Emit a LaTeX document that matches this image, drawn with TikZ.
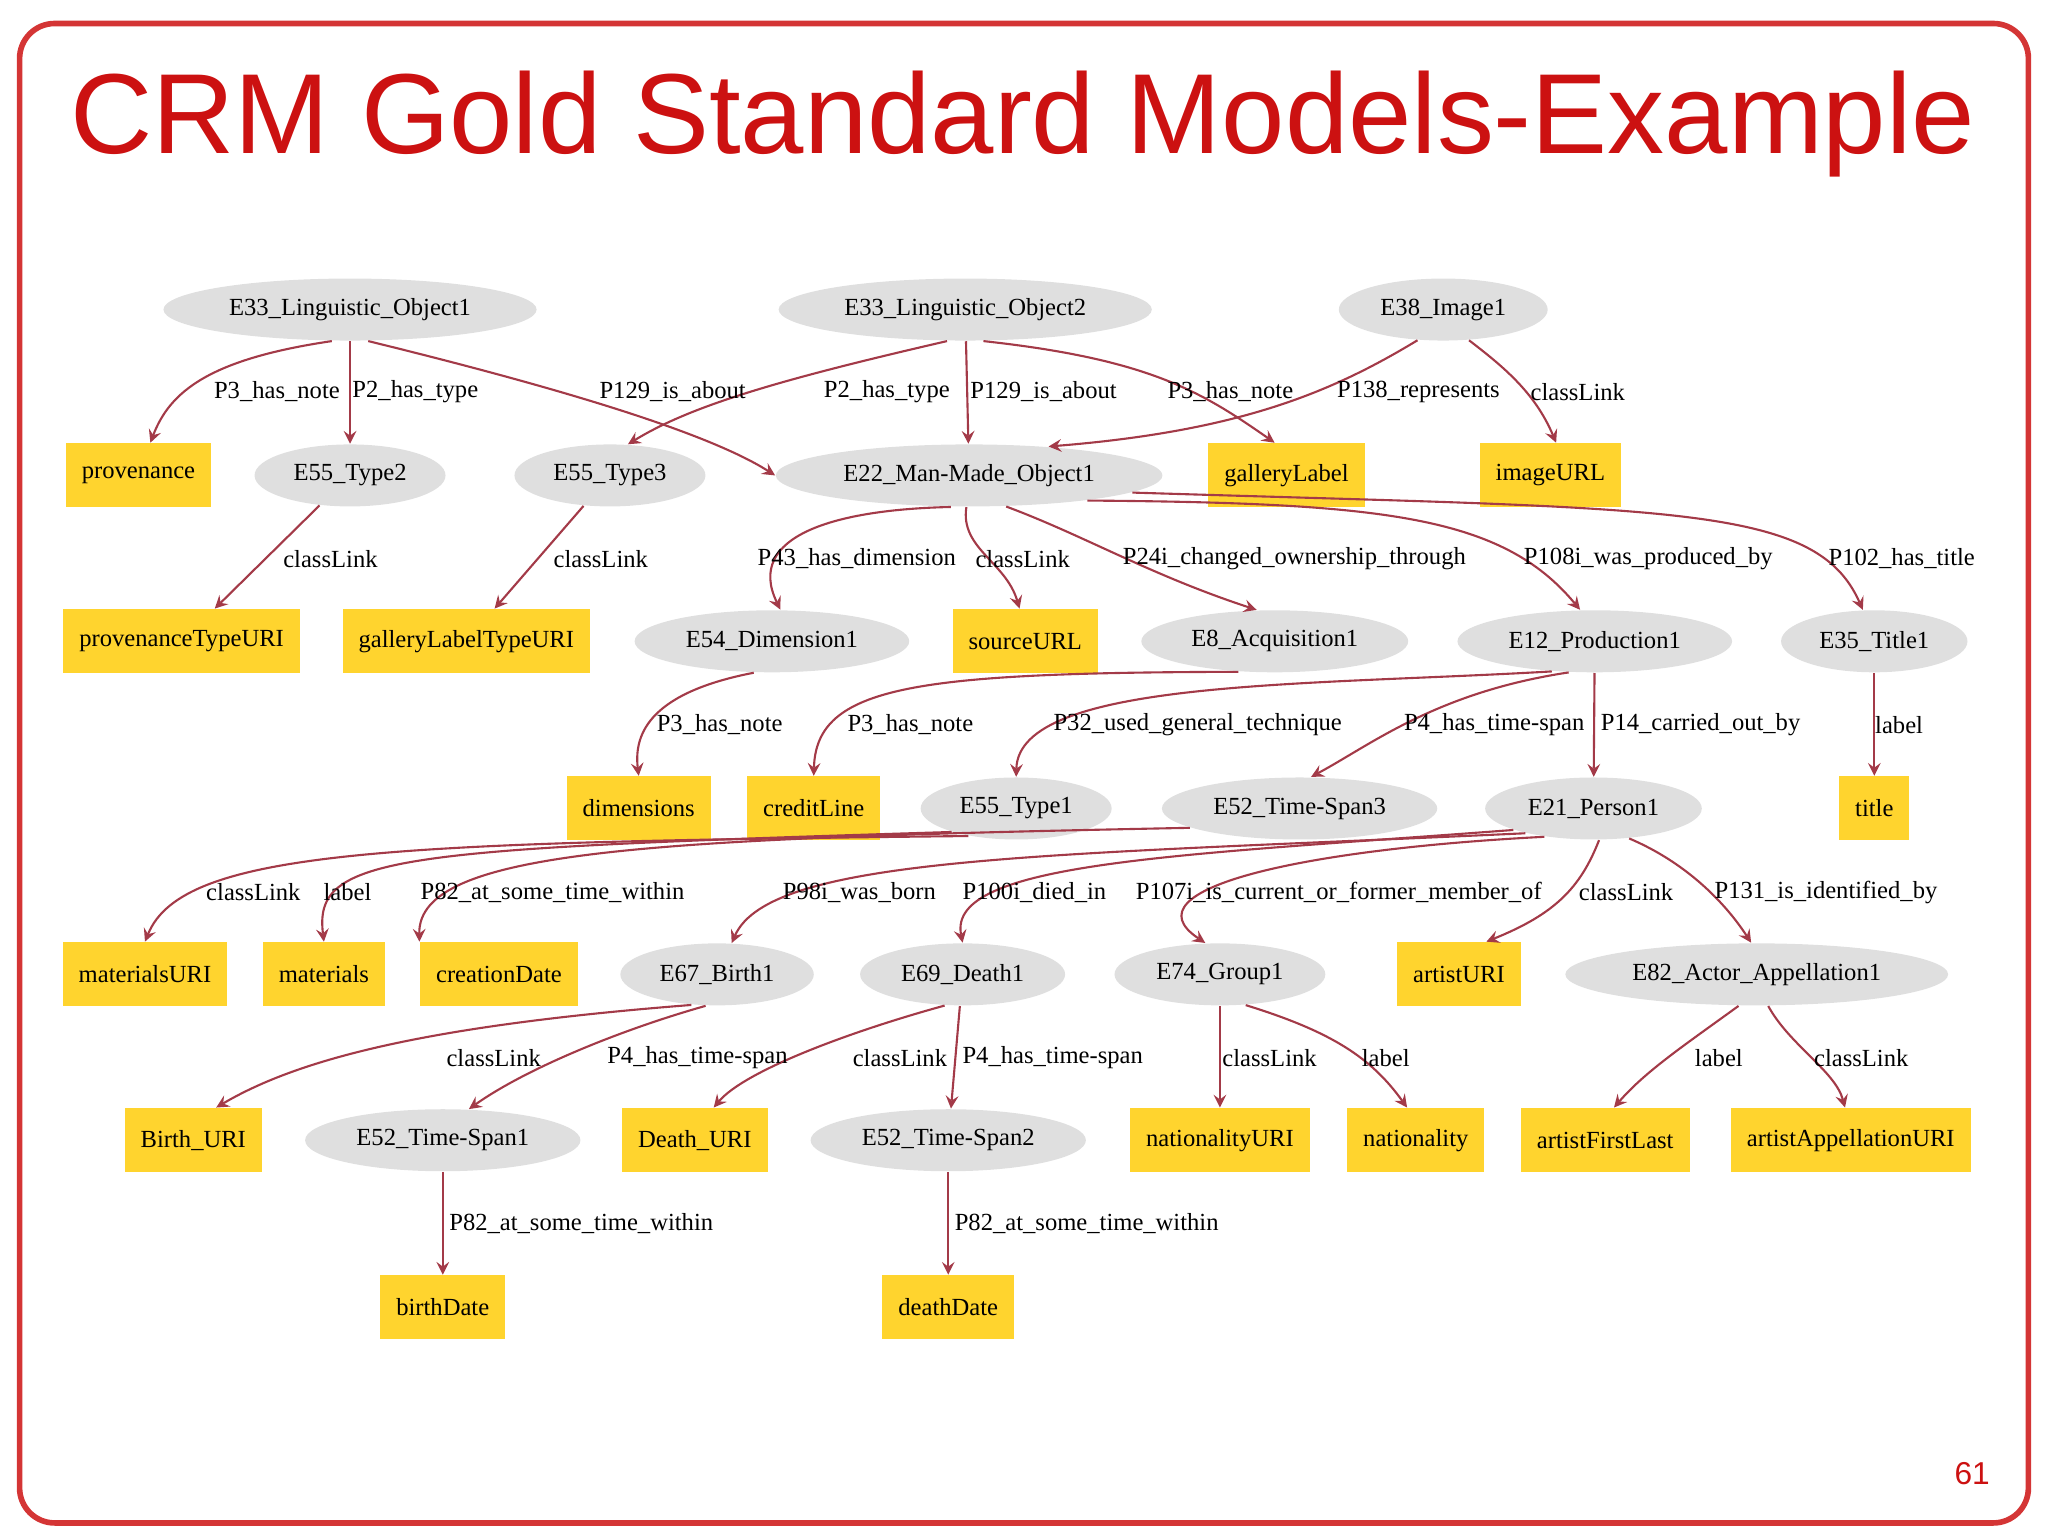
\documentclass[tikz,border=0pt]{standalone}
\usepackage{fontspec}
\setmainfont{Liberation Serif}
\newfontfamily\titlefont{Liberation Sans}
\usetikzlibrary{shapes.geometric,arrows,positioning}
\definecolor{crmred}{HTML}{CC1111}
\definecolor{edgered}{HTML}{A33A48}
\definecolor{gold}{HTML}{FFD42E}
\tikzset{
  cls/.style={ellipse, fill=gray!25, inner xsep=0.11cm, inner ysep=0.02cm, minimum height=0.62cm, font=\fontsize{7}{8}\selectfont},
  lit/.style={rectangle, fill=gold, inner xsep=0.16cm, minimum height=0.64cm, font=\fontsize{7}{8}\selectfont},
  lab/.style={font=\fontsize{7}{8}\selectfont, inner sep=1pt},
  edge/.style={draw=edgered, line width=0.6pt, -stealth}
}
\begin{document}
\begin{tikzpicture}[x=0.013061cm, y=-0.013061cm]
    \useasboundingbox (0,0) rectangle (1568,1176);
    \draw[crmred!85, line width=1.6pt, rounded corners=0.35cm] (15,18) rectangle (1553,1166);
    \node (heading) at (783,95) {\titlefont\fontsize{32.4}{36}\selectfont\color{crmred}CRM Gold Standard Models-Example};
    \node (pagenum) at (1510,1128) {\titlefont\fontsize{9}{10}\selectfont\color{crmred}61};

    % row 1
    \node[cls] (o1) at (268,237) {E33\_Linguistic\_Object1};
    \node[cls] (o2) at (739,237) {E33\_Linguistic\_Object2};
    \node[cls] (img) at (1105,237) {E38\_Image1};
    % row 2
    \node[lit] (prov) at (106,364) {provenance};
    \node[cls] (t2) at (268,364) {E55\_Type2};
    \node[cls] (t3) at (467,364) {E55\_Type3};
    \node[cls] (e22) at (742,364) {E22\_Man-Made\_Object1};
    \node[lit] (glab) at (985,364) {galleryLabel};
    \node[lit] (iurl) at (1187,364) {imageURL};
    % row 3
    \node[lit] (ptype) at (139,491) {provenanceTypeURI};
    \node[lit] (gtype) at (357,491) {galleryLabelTypeURI};
    \node[cls] (dim) at (591,491) {E54\_Dimension1};
    \node[lit] (surl) at (785,491) {sourceURL};
    \node[cls] (acq) at (976,491) {E8\_Acquisition1};
    \node[cls] (prod) at (1221,491) {E12\_Production1};
    \node[cls] (ttl) at (1435,491) {E35\_Title1};
    % row 4
    \node[lit] (dims) at (489,619) {dimensions};
    \node[lit] (credit) at (623,619) {creditLine};
    \node[cls] (t1) at (778,619) {E55\_Type1};
    \node[cls] (ts3) at (995,619) {E52\_Time-Span3};
    \node[cls] (pers) at (1220,619) {E21\_Person1};
    \node[lit] (title) at (1435,619) {title};
    % row 5
    \node[lit] (murl) at (111,746) {materialsURI};
    \node[lit] (mat) at (248,746) {materials};
    \node[lit] (cdate) at (382,746) {creationDate};
    \node[cls] (birth) at (549,746) {E67\_Birth1};
    \node[cls] (death) at (737,746) {E69\_Death1};
    \node[cls] (grp) at (934,746) {E74\_Group1};
    \node[lit] (aurl) at (1117,746) {artistURI};
    \node[cls] (appel) at (1345,746) {E82\_Actor\_Appellation1};
    % row 6
    \node[lit] (burl) at (148,873) {Birth\_URI};
    \node[cls] (ts1) at (339,873) {E52\_Time-Span1};
    \node[lit] (durl) at (532,873) {Death\_URI};
    \node[cls] (ts2) at (726,873) {E52\_Time-Span2};
    \node[lit] (nurl) at (934,873) {nationalityURI};
    \node[lit] (nat) at (1084,873) {nationality};
    \node[lit] (afl) at (1229,873) {artistFirstLast};
    \node[lit] (aaurl) at (1417,873) {artistAppellationURI};
    % row 7
    \node[lit] (bdate) at (339,1001) {birthDate};
    \node[lit] (ddate) at (726,1001) {deathDate};

    % edges
    \draw[edge] (o1.-120) .. controls (160,275) and (130,300) .. (prov.70);
    \draw[edge] (o1) -- (t2);
    \draw[edge] (o1.-60) .. controls (420,295) and (540,330) .. (e22.west);
    \draw[edge] (o2.-120) .. controls (600,290) and (530,310) .. (t3.60);
    \draw[edge] (o2) -- (e22);
    \draw[edge] (o2.-60) .. controls (880,275) and (920,300) .. (glab.110);
    \draw[edge] (img.-130) .. controls (1020,300) and (950,330) .. (e22.20);
    \draw[edge] (img.-50) .. controls (1150,280) and (1175,300) .. (iurl.80);
    \draw[edge] (t2) -- (ptype);
    \draw[edge] (t3) -- (gtype);
    \draw[edge] (e22.-120) .. controls (640,390) and (570,410) .. (dim.75);
    \draw[edge] (e22.-95) .. controls (735,420) and (770,430) .. (surl.100);
    \draw[edge] (e22.-40) .. controls (830,410) and (880,440) .. (acq.120);
    \draw[edge] (e22.-12) .. controls (1060,385) and (1150,395) .. (prod.115);
    \draw[edge] (e22.-6) .. controls (1280,390) and (1390,385) .. (ttl.110);
    \draw[edge] (dim.-120) .. controls (500,530) and (485,560) .. (dims.north);
    \draw[edge] (acq.-140) .. controls (700,515) and (625,525) .. (credit.north);
    \draw[edge] (prod.-145) .. controls (1000,525) and (780,520) .. (t1.north);
    \draw[edge] (prod.-130) .. controls (1100,530) and (1050,570) .. (ts3.70);
    \draw[edge] (prod) -- (pers);
    \draw[edge] (ttl) -- (title);
    \draw[edge] (t1.-150) .. controls (300,645) and (140,650) .. (murl.north);
    \draw[edge] (t1.-160) .. controls (300,650) and (240,655) .. (mat.north);
    \draw[edge] (ts3.-170) .. controls (500,642) and (320,650) .. (cdate.north west);
    \draw[edge] (pers.-160) .. controls (800,655) and (590,655) .. (birth.65);
    \draw[edge] (pers.-165) .. controls (900,655) and (725,660) .. (death.north);
    \draw[edge] (pers.-150) .. controls (1000,650) and (860,680) .. (grp.115);
    \draw[edge] (pers.-80) .. controls (1210,680) and (1190,700) .. (aurl.50);
    \draw[edge] (pers.-40) .. controls (1290,660) and (1320,690) .. (appel.100);
    \draw[edge] (birth.-130) .. controls (330,785) and (230,810) .. (burl.55);
    \draw[edge] (birth.-110) .. controls (470,790) and (400,820) .. (ts1.50);
    \draw[edge] (death.-120) .. controls (650,790) and (570,820) .. (durl.60);
    \draw[edge] (death) -- (ts2);
    \draw[edge] (grp) -- (nurl);
    \draw[edge] (grp.-50) .. controls (1020,790) and (1050,810) .. (nat.105);
    \draw[edge] (appel.-120) .. controls (1290,800) and (1260,820) .. (afl.75);
    \draw[edge] (appel.-70) .. controls (1370,800) and (1405,820) .. (aaurl.100);
    \draw[edge] (ts1) -- (bdate);
    \draw[edge] (ts2) -- (ddate);

    % edge labels
    \node[lab] (l1) at (212,300) {P3\_has\_note};
    \node[lab] (l2) at (318,300) {P2\_has\_type};
    \node[lab] (l3) at (515,300) {P129\_is\_about};
    \node[lab] (l4) at (679,300) {P2\_has\_type};
    \node[lab] (l5) at (799,300) {P129\_is\_about};
    \node[lab] (l6) at (942,300) {P3\_has\_note};
    \node[lab] (l7) at (1086,300) {P138\_represents};
    \node[lab] (l8) at (1208,300) {classLink};
    \node[lab] (l9) at (253,428) {classLink};
    \node[lab] (l10) at (460,428) {classLink};
    \node[lab] (l11) at (656,428) {P43\_has\_dimension};
    \node[lab] (l12) at (783,428) {classLink};
    \node[lab] (l13) at (991,428) {P24i\_changed\_ownership\_through};
    \node[lab] (l14) at (1262,428) {P108i\_was\_produced\_by};
    \node[lab] (l15) at (1456,428) {P102\_has\_title};
    \node[lab] (l16) at (551,555) {P3\_has\_note};
    \node[lab] (l17) at (697,555) {P3\_has\_note};
    \node[lab] (l18) at (917,555) {P32\_used\_general\_technique};
    \node[lab] (l19) at (1144,555) {P4\_has\_time-span};
    \node[lab] (l20) at (1302,555) {P14\_carried\_out\_by};
    \node[lab] (l21) at (1454,555) {label};
    \node[lab] (l22) at (194,683) {classLink};
    \node[lab] (l23) at (266,683) {label};
    \node[lab] (l24) at (423,683) {P82\_at\_some\_time\_within};
    \node[lab] (l25) at (658,683) {P98i\_was\_born};
    \node[lab] (l26) at (792,683) {P100i\_died\_in};
    \node[lab] (l27) at (1025,683) {P107i\_is\_current\_or\_former\_member\_of};
    \node[lab] (l28) at (1245,683) {classLink};
    \node[lab] (l29) at (1398,683) {P131\_is\_identified\_by};
    \node[lab] (l30) at (378,810) {classLink};
    \node[lab] (l31) at (534,810) {P4\_has\_time-span};
    \node[lab] (l32) at (689,810) {classLink};
    \node[lab] (l33) at (806,810) {P4\_has\_time-span};
    \node[lab] (l34) at (972,810) {classLink};
    \node[lab] (l35) at (1061,810) {label};
    \node[lab] (l36) at (1316,810) {label};
    \node[lab] (l37) at (1425,810) {classLink};
    \node[lab] (l38) at (445,937) {P82\_at\_some\_time\_within};
    \node[lab] (l39) at (832,937) {P82\_at\_some\_time\_within};
\end{tikzpicture}
\end{document}
